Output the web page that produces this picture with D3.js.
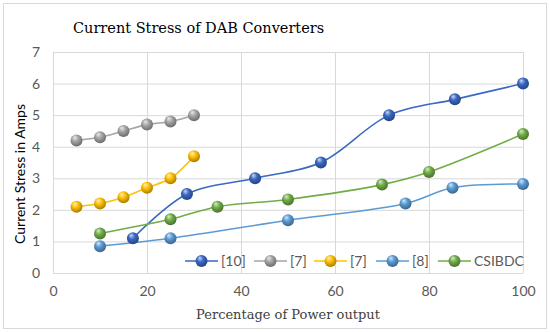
<!DOCTYPE html>
<html>
<head>
<meta charset="utf-8">
<script src="https://cdn.jsdelivr.net/npm/d3@7"></script>
<style>
  body { margin: 0; background: #fff; }
  svg { display: block; }
</style>
</head>
<body>
<div class="chart"></div>
<script>
// data
const xTicks = [0, 20, 40, 60, 80, 100];
const yTicks = [0, 1, 2, 3, 4, 5, 6, 7];

const s10X = [17, 28.5, 43, 57, 71.5, 85.5, 100];
const s10Y = [1.1, 2.5, 3.0, 3.5, 5.0, 5.5, 6.0];

const s7gX = [5, 10, 15, 20, 25, 30];
const s7gY = [4.2, 4.3, 4.5, 4.7, 4.8, 5.0];

const s7yX = [5, 10, 15, 20, 25, 30];
const s7yY = [2.1, 2.2, 2.4, 2.7, 3.0, 3.7];

const s8X = [10, 25, 50, 75, 85, 100];
const s8Y = [0.85, 1.1, 1.67, 2.2, 2.7, 2.82];

const csX = [10, 25, 35, 50, 70, 80, 100];
const csY = [1.25, 1.7, 2.1, 2.33, 2.8, 3.2, 4.4];

const seriesNames = ['[10]', '[7]', '[7]', '[8]', 'CSIBDC'];
const seriesColors = ['#3a68c4', '#a5a5a5', '#ffc000', '#5b9bd5', '#70ad47'];

const series = [
  [s10X, s10Y], [s7gX, s7gY], [s7yX, s7yY], [s8X, s8Y], [csX, csY]
].map(([xs, ys], i) => ({
  name: seriesNames[i],
  color: seriesColors[i],
  points: xs.map((x, j) => ({ x, y: ys[j] }))
}));

const W = 550, H = 332;
const margin = { top: 52, right: 27, bottom: 59, left: 53 };
const width = W - margin.left - margin.right;
const height = H - margin.top - margin.bottom;

const svg = d3.select('.chart')
  .append('svg')
  .attr('width', W)
  .attr('height', H);

// outer frame
svg.append('rect')
  .attr('x', 3.5).attr('y', 3.5)
  .attr('width', W - 7).attr('height', H - 7)
  .attr('fill', '#fff')
  .attr('stroke', '#d9d9d9');

// glossy marker gradients
const defs = svg.append('defs');
series.forEach((s, i) => {
  const c = d3.color(s.color);
  const g = defs.append('radialGradient')
    .attr('id', 'ball' + i)
    .attr('cx', '45%').attr('cy', '40%').attr('r', '60%')
    .attr('fx', '35%').attr('fy', '25%');
  g.append('stop').attr('offset', '0%').attr('stop-color', d3.interpolateRgb(c, '#fff')(0.75));
  g.append('stop').attr('offset', '45%').attr('stop-color', c.formatHex());
  g.append('stop').attr('offset', '100%').attr('stop-color', c.darker(1.2).formatHex());
});

const g = svg.append('g')
  .attr('transform', `translate(${margin.left}, ${margin.top})`);

const x = d3.scaleLinear().domain([0, 100]).range([0, width]);
const y = d3.scaleLinear().domain([0, 7]).range([height, 0]);

// gridlines
g.append('g')
  .attr('class', 'grid')
  .call(d3.axisBottom(x).tickValues(xTicks).tickSize(height).tickFormat(''))
  .call(a => a.select('.domain').remove())
  .selectAll('line').attr('stroke', '#d9d9d9');

g.append('g')
  .attr('class', 'grid')
  .call(d3.axisLeft(y).tickValues(yTicks).tickSize(-width).tickFormat(''))
  .call(a => a.select('.domain').remove())
  .selectAll('line').attr('stroke', '#d9d9d9');

// tick labels
const tickFont = 'Lato, sans-serif';
g.append('g')
  .attr('transform', `translate(0, ${height})`)
  .call(d3.axisBottom(x).tickValues(xTicks).tickSize(0).tickPadding(13))
  .call(a => a.select('.domain').remove())
  .selectAll('text')
  .style('font-family', tickFont)
  .style('font-size', '14px')
  .attr('fill', '#595959');

g.append('g')
  .call(d3.axisLeft(y).tickValues(yTicks).tickSize(0).tickPadding(13).tickFormat(d3.format('d')))
  .call(a => a.select('.domain').remove())
  .selectAll('text')
  .style('font-family', tickFont)
  .style('font-size', '14px')
  .attr('fill', '#595959');

// lines
const line = d3.line()
  .x(d => x(d.x))
  .y(d => y(d.y))
  .curve(d3.curveCatmullRom.alpha(0.5));

series.forEach((s, i) => {
  g.append('path')
    .datum(s.points)
    .attr('fill', 'none')
    .attr('stroke', s.color)
    .attr('stroke-width', 1.6)
    .attr('d', line);
});

series.forEach((s, i) => {
  g.selectAll('.m' + i)
    .data(s.points)
    .enter().append('circle')
    .attr('class', 'm' + i)
    .attr('cx', d => x(d.x))
    .attr('cy', d => y(d.y))
    .attr('r', 6)
    .attr('fill', `url(#ball${i})`);
});

// legend
const legendX = [185, 254, 314, 376, 438];
const legend = svg.append('g').attr('transform', 'translate(0, 261)');
series.forEach((s, i) => {
  const lg = legend.append('g').attr('transform', `translate(${legendX[i]}, 0)`);
  lg.append('line')
    .attr('x1', 0).attr('x2', 33)
    .attr('stroke', s.color).attr('stroke-width', 1.6);
  lg.append('circle')
    .attr('cx', 16.5).attr('r', 6)
    .attr('fill', `url(#ball${i})`);
  lg.append('text')
    .attr('x', 36).attr('y', 5)
    .style('font-family', tickFont)
    .style('font-size', '14px')
    .attr('fill', '#595959')
    .text(s.name);
});

// title
svg.append('text')
  .attr('x', 73)
  .attr('y', 33)
  .style('font-family', 'DejaVu Serif, serif')
  .style('font-size', '14.5px')
  .attr('fill', '#000')
  .text('Current Stress of DAB Converters');

// axis titles
svg.append('text')
  .attr('x', margin.left + width / 2)
  .attr('y', 319)
  .style('font-family', 'DejaVu Serif, serif')
  .style('font-size', '13px')
  .style('text-anchor', 'middle')
  .attr('fill', '#404040')
  .text('Percentage of Power output');

svg.append('text')
  .attr('transform', 'rotate(-90)')
  .attr('x', -174)
  .attr('y', 25)
  .style('font-family', tickFont)
  .style('font-size', '14px')
  .style('text-anchor', 'middle')
  .attr('fill', '#000')
  .text('Current Stress in Amps');
</script>
</body>
</html>
